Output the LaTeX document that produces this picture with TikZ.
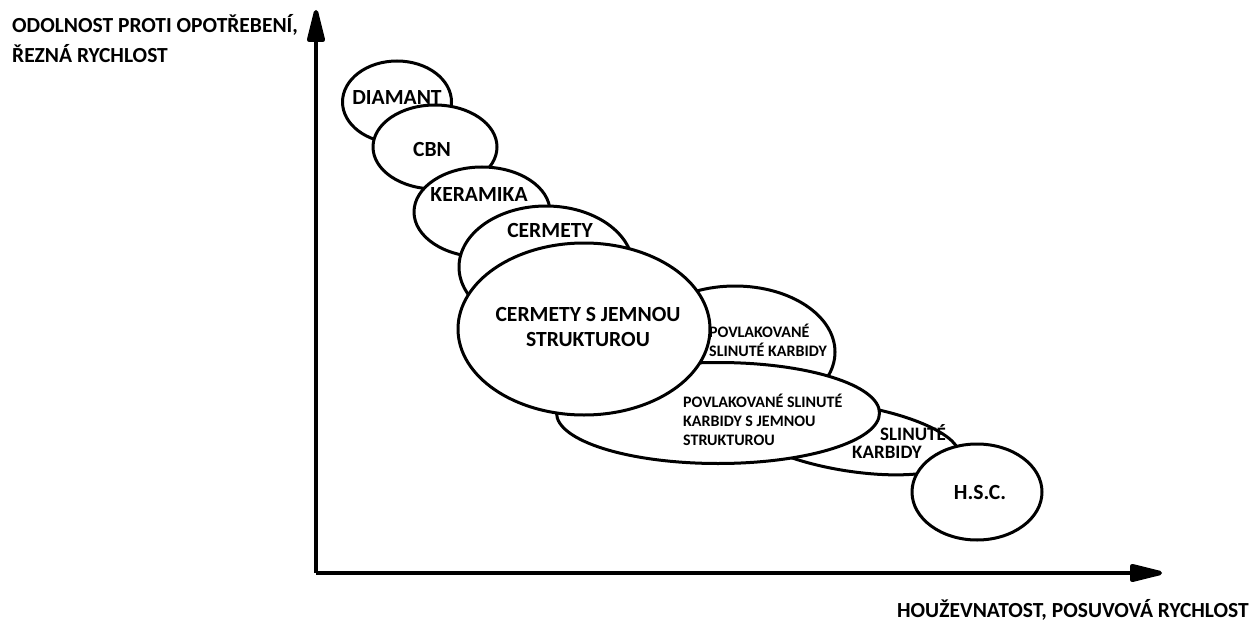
\documentclass[tikz,border=0pt]{standalone}
\usepackage{fontspec}
\setmainfont{Carlito}
\usetikzlibrary{shapes.geometric,arrows.meta}
\tikzset{
  ell/.style={draw=black, fill=white, line width=3pt, ellipse, inner sep=0pt},
  lbl/.style={font=\bfseries\fontsize{21.6}{25}\selectfont, align=center, inner sep=0pt},
  sml/.style={font=\bfseries\fontsize{16}{19}\selectfont, align=left, inner sep=0pt},
  mid/.style={font=\bfseries\fontsize{19}{19.5}\selectfont, inner sep=0pt},
  axis/.style={line width=4.5pt, -{Triangle[length=40pt,width=18pt,round]}},
  axlbl/.style={font=\bfseries\fontsize{21.5}{30}\selectfont, align=left, inner sep=0pt}
}
\begin{document}
\begin{tikzpicture}[x=1pt,y=-1pt]
\useasboundingbox (0,0) rectangle (1253,623);
\coordinate (O) at (316,573);
\coordinate (Ytip) at (316,10);
\coordinate (Xtip) at (1162,573);
\draw[axis] (O) -- (Ytip);
\draw[axis] (O) -- (Xtip);
\node[axlbl, anchor=north west] (ylab) at (12,14) {ODOLNOST PROTI OPOTŘEBENÍ,\\ŘEZNÁ RYCHLOST};
\node[axlbl, anchor=east] (xlab) at (1249,610) {HOUŽEVNATOST, POSUVOVÁ RYCHLOST};

\node[ell, minimum width=109pt, minimum height=82pt] (e1) at (397,102) {};
\node[ell, minimum width=124pt, minimum height=84pt] (e2) at (435,147) {};
\node[ell, minimum width=136pt, minimum height=90pt] (e3) at (482,212) {};
\node[ell, minimum width=174pt, minimum height=122pt] (e4) at (546,267) {};
\node[ell, minimum width=200pt, minimum height=132pt] (e6) at (735,352) {};
\node[ell, minimum width=220pt, minimum height=66pt, rotate=-9] (e8) at (850,438) {};
\node[ell, minimum width=323pt, minimum height=101pt] (e7) at (718,413) {};
\node[ell, minimum width=252pt, minimum height=172pt] (e5) at (584,329) {};
\node[ell, minimum width=130pt, minimum height=96pt] (e9) at (977,492) {};

\node[lbl] (t1) at (397,97) {DIAMANT};
\node[lbl] (t2) at (432,149) {CBN};
\node[lbl] (t3) at (479,194) {KERAMIKA};
\node[lbl] (t4) at (550,230) {CERMETY};
\node[lbl] (t5) at (588,327) {CERMETY S JEMNOU\\STRUKTUROU};
\node[sml, anchor=west] (t6) at (709,340) {POVLAKOVANÉ\\SLINUTÉ KARBIDY};
\node[sml, anchor=west] (t7) at (683,420) {POVLAKOVANÉ SLINUTÉ\\KARBIDY S JEMNOU\\STRUKTUROU};
\node[mid] (t8a) at (913,433) {SLINUTÉ};
\node[mid] (t8b) at (887,452) {KARBIDY};
\node[lbl] (t9) at (980,492) {H.S.C.};
\end{tikzpicture}
\end{document}
